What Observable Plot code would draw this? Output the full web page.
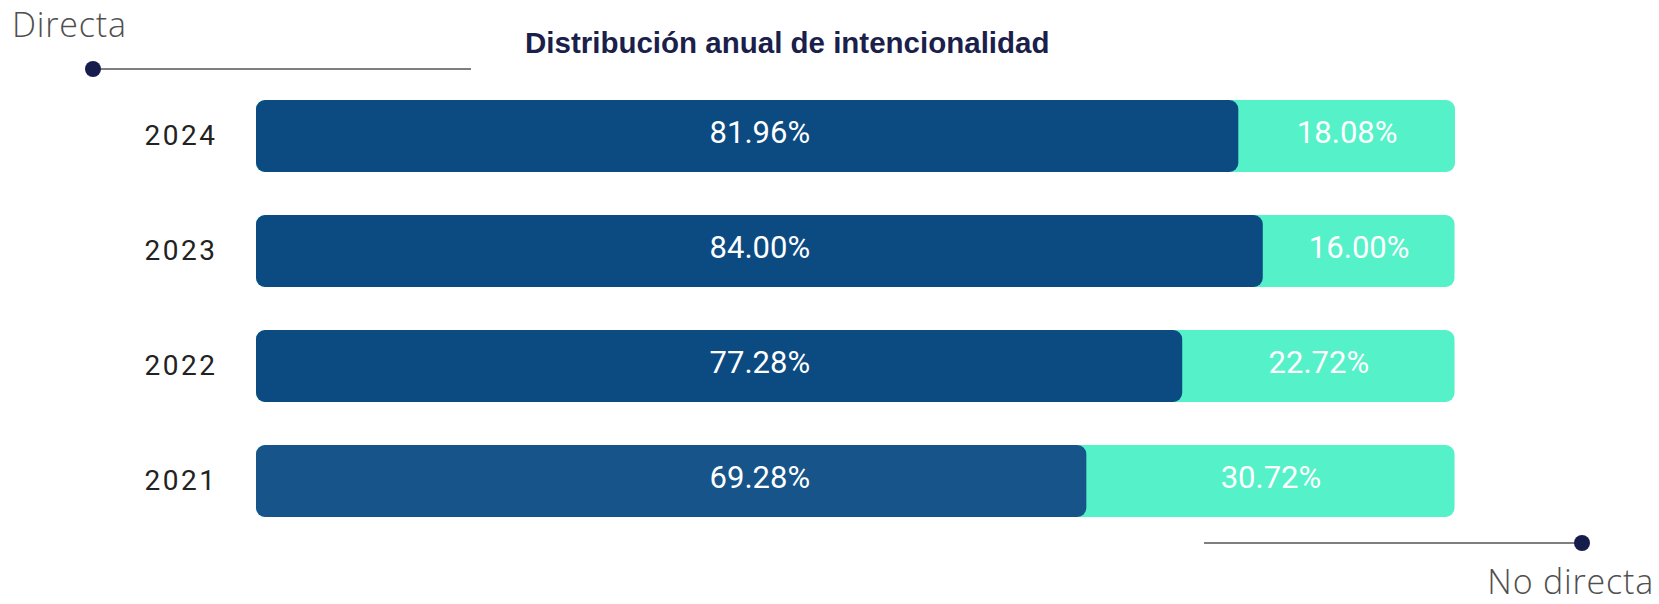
<!DOCTYPE html>
<html>
<head>
<meta charset="utf-8">
<script src="https://cdn.jsdelivr.net/npm/d3@7"></script>
<script src="https://cdn.jsdelivr.net/npm/@observablehq/plot@0.6"></script>
<style>
  html, body { margin: 0; padding: 0; background: #fff; }
  #wrap { position: relative; width: 1659px; height: 604px; overflow: hidden; }
  #wrap svg.plot { position: absolute; left: 0; top: 0; }
  #overlay { position: absolute; left: 0; top: 0; pointer-events: none; }
  g[aria-label="y-axis tick label"] text { letter-spacing: 2.5px; }
</style>
</head>
<body>
<div id="wrap"></div>
<script>
const years = ["2024", "2023", "2022", "2021"];
const directa = [81.96, 84.00, 77.28, 69.28];
const noDirecta = [18.08, 16.00, 22.72, 30.72];
const title = "Distribución anual de intencionalidad";
const legendTop = "Directa";
const legendBottom = "No directa";

const data = years.map((year, i) => ({
  year,
  directa: directa[i],
  noDirecta: noDirecta[i],
  total: directa[i] + noDirecta[i]
}));
const fmt = v => v.toFixed(2) + "%";
const darkLabelX = d3.max(directa) / 2;

const chart = Plot.plot({
  width: 1659,
  height: 604,
  marginLeft: 256,
  marginRight: 204,
  marginTop: 56,
  marginBottom: 44,
  style: { fontFamily: "Roboto, sans-serif", background: "transparent" },
  x: { domain: [0, d3.max(data, d => d.total)], axis: null },
  y: { domain: years, padding: 0.375, axis: null },
  marks: [
    Plot.barX(data, { y: "year", x1: () => 0, x2: "total", fill: "#55f1c9", rx: 9 }),
    Plot.barX(data, { y: "year", x1: () => 0, x2: "directa", rx: 9,
      fill: d => d.year === "2021" ? "#16548a" : "#0c4a82" }),
    Plot.text(data, { y: "year", x: () => darkLabelX, text: d => fmt(d.directa),
      fill: "white", fontSize: 31, dy: -3 }),
    Plot.text(data, { y: "year", x: d => (d.directa + d.total) / 2, text: d => fmt(d.noDirecta),
      fill: "white", fontSize: 31, dy: -3 }),
    Plot.axisY({ tickSize: 0, tickPadding: 39, fontSize: 28, fill: "#222", label: null })
  ]
});
const wrap = document.getElementById("wrap");
wrap.appendChild(chart);

// Decorations (title and legend) in an overlay SVG
const ov = d3.select(wrap).append("svg")
  .attr("id", "overlay").attr("width", 1659).attr("height", 604);

ov.append("text").attr("x", 525).attr("y", 53)
  .attr("font-family", "'Liberation Sans', Arial, sans-serif")
  .attr("font-weight", "bold").attr("font-size", 29.5).attr("fill", "#1b1f4b")
  .text(title);

ov.append("text").attr("x", 12).attr("y", 37)
  .attr("font-family", "'Open Sans', sans-serif").attr("font-weight", 300).attr("font-size", 34)
  .attr("letter-spacing", 0.8).attr("fill", "#4f4f4f").text(legendTop);
ov.append("line").attr("x1", 93).attr("x2", 471).attr("y1", 69).attr("y2", 69)
  .attr("stroke", "#555").attr("stroke-width", 1.5);
ov.append("circle").attr("cx", 93).attr("cy", 69).attr("r", 8).attr("fill", "#161c4c");

ov.append("line").attr("x1", 1204).attr("x2", 1582).attr("y1", 543).attr("y2", 543)
  .attr("stroke", "#555").attr("stroke-width", 1.5);
ov.append("circle").attr("cx", 1582).attr("cy", 543).attr("r", 8).attr("fill", "#161c4c");
ov.append("text").attr("x", 1654).attr("y", 594).attr("text-anchor", "end")
  .attr("font-family", "'Open Sans', sans-serif").attr("font-weight", 300).attr("font-size", 34)
  .attr("letter-spacing", 0.8).attr("fill", "#4f4f4f").text(legendBottom);
</script>
</body>
</html>
